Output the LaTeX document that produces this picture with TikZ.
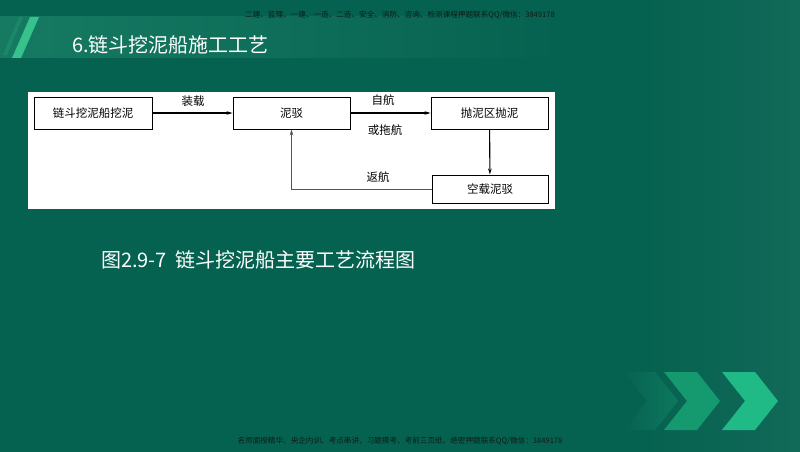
\documentclass[tikz,border=0pt]{standalone}
\usepackage{fontspec}
\newfontfamily\cjk{Noto Sans CJK SC}
\usetikzlibrary{arrows.meta}
\definecolor{bgteal}{HTML}{066250}
\definecolor{bandlight}{HTML}{167A62}
\definecolor{stripebright}{HTML}{36C28D}
\definecolor{stripefaint}{HTML}{1E8E6C}
\definecolor{chevA}{HTML}{0B7059}
\definecolor{chevB}{HTML}{159A70}
\definecolor{chevC}{HTML}{1FBA86}
\definecolor{wmark}{HTML}{0E1C18}
\definecolor{retline}{HTML}{555555}
\begin{document}
\begin{tikzpicture}[x=1pt,y=-1pt,
  procbox/.style={draw=black, line width=0.9pt, fill=white, inner sep=0pt,
    font=\cjk\fontsize{11.5}{13}\selectfont},
  flowlabel/.style={inner sep=0pt, font=\cjk\fontsize{11.5}{13}\selectfont},
  mainarrow/.style={draw=black, line width=1.1pt, -{Stealth[length=6pt,width=3.5pt]}},
  backarrow/.style={draw=retline, line width=0.7pt, -{Stealth[length=6pt,width=3.5pt]}},
  wmtext/.style={inner sep=0pt, text=wmark, font=\cjk\fontsize{7.6}{8}\selectfont}
]
\useasboundingbox (0,0) rectangle (800,452);
% background
\fill[bgteal] (0,0) rectangle (800,452);
\shade[left color=bgteal, right color=bgteal!88!white, opacity=0.4] (640,0) rectangle (800,452);
% title band
\shade[left color=bandlight, right color=bgteal] (0,17) rectangle (560,58);
% stripes
\fill[stripefaint, opacity=0.7] (19,17) -- (23,17) -- (7,55) -- (3,55) -- cycle;
\fill[stripebright] (30,17) -- (39,17) -- (21,58) -- (12,58) -- cycle;
% title
\node[anchor=west, inner sep=0pt, text=white, font=\cjk\fontsize{20}{22}\selectfont] (title) at (72,45) {6.链斗挖泥船施工工艺};
% watermarks
\node[wmtext] (wmtop) at (400,15) {二建、监理、一建、一造、二造、安全、消防、咨询、检测课程押题联系QQ/微信：3849178};
\node[wmtext] (wmbot) at (400,441) {名师面授精华、央企内训、考点串讲、习题摸考、考前三页纸、绝密押题联系QQ/微信：3849178};
% chevrons
\shade[left color=bgteal, right color=chevA!80!chevB] (624,372) -- (655,372) -- (678,401) -- (655,430) -- (624,430) -- (647,401) -- cycle;
\fill[chevB] (664,372) -- (697,372) -- (720,401) -- (697,430) -- (664,430) -- (687,401) -- cycle;
\fill[chevC] (722,372) -- (755,372) -- (778,401) -- (755,430) -- (722,430) -- (745,401) -- cycle;
% diagram panel
\fill[white] (28,92) rectangle (555,209);
% boxes
\node[procbox, minimum width=118pt, minimum height=32pt] (b1) at (93,113) {链斗挖泥船挖泥};
\node[procbox, minimum width=117pt, minimum height=32pt] (b2) at (291.5,113) {泥驳};
\node[procbox, minimum width=117pt, minimum height=32pt] (b3) at (489.5,113) {抛泥区抛泥};
\node[procbox, minimum width=116pt, minimum height=28pt] (b4) at (490,189) {空载泥驳};
% connectors
\draw[mainarrow] (b1) -- (b2);
\draw[mainarrow] (b2) -- (b3);
\draw[mainarrow] (b3) -- (b4);
\coordinate (retcorner) at (b2.south |- b4.west);
\draw[backarrow] (b4.west) -- (retcorner) -- (b2.south);
% labels
\node[flowlabel] (lzz) at (193,101) {装载};
\node[flowlabel] (lzh) at (383,100) {自航};
\node[flowlabel] (lth) at (385,130) {或拖航};
\node[flowlabel] (lfh) at (378,177) {返航};
% caption
\node[anchor=west, inner sep=0pt, text=white, font=\cjk\fontsize{20}{22}\selectfont] (caption) at (101,260) {图2.9-7\ \ 链斗挖泥船主要工艺流程图};
\end{tikzpicture}
\end{document}
